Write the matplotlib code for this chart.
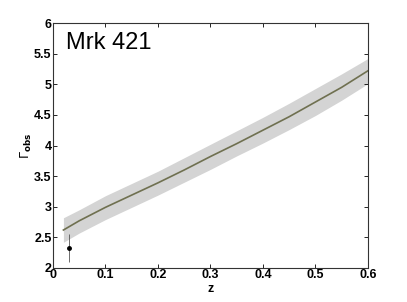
import matplotlib
matplotlib.use('Agg')
from matplotlib import pyplot as plt

# model curve
z_model = [0.02, 0.05, 0.1, 0.15, 0.2, 0.25, 0.3, 0.35, 0.4, 0.45, 0.5, 0.55, 0.6]
gamma_model = [2.62, 2.77, 2.99, 3.19, 3.39, 3.60, 3.82, 4.03, 4.25, 4.47, 4.71, 4.95, 5.22]
gamma_upper = [2.82, 2.95, 3.18, 3.38, 3.58, 3.80, 4.02, 4.24, 4.46, 4.69, 4.93, 5.17, 5.42]
gamma_lower = [2.42, 2.57, 2.79, 2.99, 3.19, 3.40, 3.61, 3.83, 4.04, 4.26, 4.49, 4.74, 5.01]

# observed point
z_obs = [0.031]
gamma_obs = [2.32]
gamma_err_lo = [0.22]
gamma_err_hi = [0.24]

x_ticks = [0, 0.1, 0.2, 0.3, 0.4, 0.5, 0.6]
x_tick_labels = ['0', '0.1', '0.2', '0.3', '0.4', '0.5', '0.6']
y_ticks = [2, 2.5, 3, 3.5, 4, 4.5, 5, 5.5, 6]
y_tick_labels = ['2', '2.5', '3', '3.5', '4', '4.5', '5', '5.5', '6']

plt.rcParams['font.family'] = ['Liberation Sans', 'DejaVu Sans']

fig = plt.figure(figsize=(4.07, 3.02), dpi=100)
ax = fig.add_axes([0.130, 0.1126, 0.774, 0.8112])

ax.fill_between(z_model, gamma_lower, gamma_upper, color='#d4d4d4', linewidth=0)
ax.plot(z_model, gamma_model, color='#6f7050', linewidth=1.2)
ax.errorbar(z_obs, gamma_obs, yerr=[gamma_err_lo, gamma_err_hi], fmt='o', color='black',
            markersize=2.5, elinewidth=0.6, ecolor='#555555', capsize=0)

ax.set_xlim(0, 0.6)
ax.set_ylim(2, 6)
ax.set_xticks(x_ticks)
ax.set_xticklabels(x_tick_labels, fontweight='bold', fontsize=9)
ax.set_yticks(y_ticks)
ax.set_yticklabels(y_tick_labels, fontweight='bold', fontsize=9)
ax.tick_params(direction='in', top=True, right=True, length=3, width=0.6, pad=1)
for s in ax.spines.values():
    s.set_linewidth(0.8)
    s.set_color('#333333')

ax.set_xlabel('z', fontweight='bold', fontsize=9, labelpad=1)
ax.set_ylabel(r'$\Gamma_{\mathbf{obs}}$', fontsize=9, labelpad=0)
ax.text(0.04, 0.965, 'Mrk 421', transform=ax.transAxes, fontsize=17, va='top', ha='left')

fig.savefig('out.png', dpi=100)
